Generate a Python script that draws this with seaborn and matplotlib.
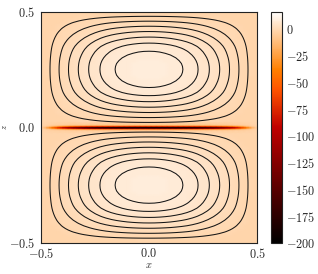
import numpy as np
import seaborn as sns
import matplotlib
matplotlib.use('Agg')
import matplotlib.pyplot as plt

# left half of the box, x = -0.5 .. 0
x_half = [-0.5, -0.475, -0.45, -0.425, -0.4, -0.375, -0.35, -0.325, -0.3, -0.275, -0.25,
          -0.225, -0.2, -0.175, -0.15, -0.125, -0.1, -0.075, -0.05, -0.025, 0.0]
psi_x = [0.0, 0.6, 1.2, 1.8, 2.38, 2.95, 3.51, 4.05, 4.58, 5.09, 5.58,
         6.04, 6.44, 6.79, 7.08, 7.32, 7.53, 7.68, 7.79, 7.86, 7.88]
# current sheet strength along the x nodes
sheet_x = [0.0, 0.08, 0.2, 0.34, 0.47, 0.58, 0.67, 0.74, 0.8, 0.85, 0.89,
           0.92, 0.94, 0.96, 0.97, 0.98, 0.98, 0.99, 0.99, 1.0, 1.0]

# upper half of the box, z = 0 .. 0.5
z_half = [0.0, 0.002, 0.004, 0.006, 0.009, 0.0125, 0.025, 0.0375, 0.05, 0.0625, 0.075,
          0.0875, 0.1, 0.1125, 0.125, 0.1375, 0.15, 0.1625, 0.175, 0.1875, 0.2,
          0.2125, 0.225, 0.2375, 0.25, 0.2625, 0.275, 0.2875, 0.3, 0.3125, 0.325,
          0.3375, 0.35, 0.3625, 0.375, 0.3875, 0.4, 0.4125, 0.425, 0.4375, 0.45,
          0.4625, 0.475, 0.4875, 0.5]
psi_z = [0.0, 0.012, 0.024, 0.036, 0.055, 0.076, 0.152, 0.228, 0.302, 0.374, 0.445,
         0.513, 0.58, 0.645, 0.707, 0.766, 0.819, 0.862, 0.898, 0.928, 0.955,
         0.975, 0.989, 0.997, 1.0, 0.997, 0.989, 0.975, 0.955, 0.928, 0.898,
         0.862, 0.819, 0.766, 0.707, 0.645, 0.58, 0.513, 0.445, 0.374, 0.302,
         0.228, 0.152, 0.076, 0.0]
sheet_z = [1.0, 0.88, 0.58, 0.3, 0.1, 0.03, 0.0, 0.0, 0.0, 0.0, 0.0,
           0.0, 0.0, 0.0, 0.0, 0.0, 0.0, 0.0, 0.0, 0.0, 0.0,
           0.0, 0.0, 0.0, 0.0, 0.0, 0.0, 0.0, 0.0, 0.0, 0.0,
           0.0, 0.0, 0.0, 0.0, 0.0, 0.0, 0.0, 0.0, 0.0, 0.0,
           0.0, 0.0, 0.0, 0.0]

levels = [1, 2, 3, 4, 5, 6, 7]
sheet_peak = -195
bg_edge = -2.5
bg_centre = 8
cbar_ticks = [0, -25, -50, -75, -100, -125, -150, -175, -200]
axis_ticks = [-0.5, 0.0, 0.5]


def mirror_x(a):
    a = np.array(a)
    return np.concatenate([a, a[-2::-1]])


def mirror_z(a):
    a = np.array(a)
    return np.concatenate([a[:0:-1], a])


def math_labels(vals, fmt):
    return ['$' + fmt.format(v) + '$' for v in vals]


sns.set_style('ticks')
plt.rcParams['mathtext.fontset'] = 'cm'
plt.rcParams['font.family'] = 'serif'
plt.rcParams['font.serif'] = ['DejaVu Serif']
plt.rcParams['axes.linewidth'] = 0.8
plt.rcParams['axes.edgecolor'] = '#222222'

x = np.concatenate([np.array(x_half), -np.array(x_half)[-2::-1]])
z = np.concatenate([-np.array(z_half)[:0:-1], np.array(z_half)])

psi = np.outer(mirror_z(psi_z), mirror_x(psi_x))
field = bg_edge + (bg_centre - bg_edge) * psi / psi.max()
field = field + sheet_peak * np.outer(mirror_z(sheet_z), mirror_x(sheet_x))

cmap = sns.color_palette('gist_heat', as_cmap=True)

fig = plt.figure(figsize=(3.18, 2.74), dpi=100)
ax = fig.add_axes([41 / 318, 1 - 243 / 274, 216 / 318, 231.5 / 274])
cax = fig.add_axes([270.5 / 318, 1 - 243 / 274, 11.5 / 318, 231.5 / 274])

mesh = ax.pcolormesh(x, z, field, shading='gouraud', cmap=cmap, vmin=-200, vmax=16, rasterized=True)
ax.contour(x, z, psi, levels=levels, colors='#151515', linewidths=0.75)

ax.set_xlim(-0.5, 0.5)
ax.set_ylim(-0.5, 0.5)
ax.set_xticks(axis_ticks)
ax.set_yticks(axis_ticks)
ax.set_xticklabels(math_labels(axis_ticks, '{:.1f}'), fontsize=8.8)
ax.set_yticklabels(math_labels(axis_ticks, '{:.1f}'), fontsize=8.8)
ax.tick_params(direction='in', top=True, right=True, length=3, width=0.5, color='#222222')
ax.tick_params(axis='x', pad=3)
ax.tick_params(axis='y', pad=4)
ax.set_xlabel('$x$', fontsize=7.5, labelpad=0)
ax.set_ylabel('$z$', fontsize=6, labelpad=0)

cb = fig.colorbar(mesh, cax=cax, ticks=cbar_ticks)
cb.ax.set_yticklabels(math_labels(cbar_ticks, '{:d}'), fontsize=8.8)
cb.ax.tick_params(direction='in', right=True, length=4, width=0.5, pad=3, color='#222222')
cb.outline.set_linewidth(0.8)

fig.savefig('out.png', dpi=100)
